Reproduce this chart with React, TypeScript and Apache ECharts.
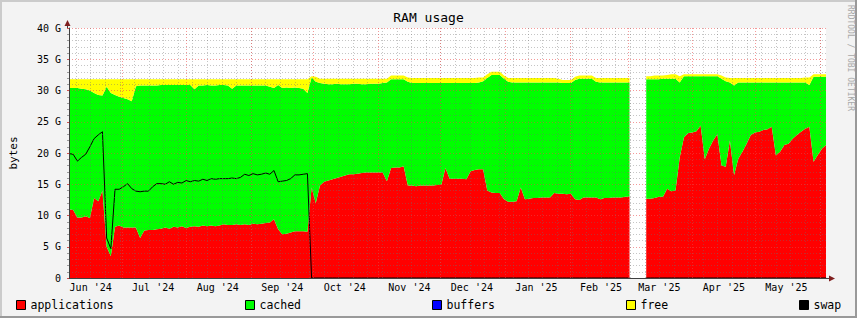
import React, { useEffect, useRef } from 'react';
import * as echarts from 'echarts';

// x axis: days after 2024-06-01 00:00 UTC (converted to timestamps for the time axis)
const START_DAY = 4.6;
const STEP_DAYS = 2.008;
const AXIS_MIN_DAY = 4.6;
const AXIS_MAX_DAY = 368;

// values in GB, one sample every STEP_DAYS days
const applications = [
  11.0, 10.9, 9.7, 9.7, 9.9, 9.6, 12.8, 12.3, 14.0, 5.0,
  3.5, 8.2, 8.4, 8.1, 8.1, 8.1, 8.1, 6.4, 7.6, 7.7,
  7.7, 7.8, 7.9, 8.1, 7.9, 8.2, 8.1, 8.3, 8.0, 8.2,
  8.3, 8.2, 8.4, 8.3, 8.4, 8.3, 8.4, 8.6, 8.5, 8.5,
  8.6, 8.5, 8.6, 8.5, 8.7, 8.6, 8.7, 8.8, 8.9, 9.4,
  7.8, 7.0, 7.1, 7.3, 7.5, 7.5, 7.5, 7.4, 14.5, 12.0,
  14.8, 15.4, 15.6, 15.8, 16.0, 16.2, 16.4, 16.6, 16.6, 16.7,
  16.8, 16.9, 16.9, 16.9, 16.9, 16.9, 15.5, 17.6, 17.7, 17.7,
  17.9, 14.8, 14.8, 14.7, 14.8, 14.8, 14.8, 14.8, 14.9, 14.9,
  17.6, 15.9, 15.9, 15.9, 15.9, 15.8, 17.1, 17.3, 17.4, 17.4,
  14.0, 13.7, 13.6, 13.6, 12.6, 12.2, 12.2, 12.3, 14.5, 12.6,
  12.7, 12.8, 12.8, 12.9, 12.9, 12.9, 13.6, 13.5, 13.5, 13.4,
  13.5, 12.6, 12.5, 12.9, 12.9, 12.9, 12.9, 12.6, 12.8, 12.8,
  12.9, 12.9, 12.9, 13.0, 13.0, null, null, null, 12.7, 12.7,
  12.8, 13.0, 13.0, 14.3, 13.9, 14.0, 19.3, 22.5, 23.2, 23.3,
  23.5, 24.4, 19.0, 20.7, 22.0, 23.0, 18.0, 17.8, 22.0, 16.5,
  19.1, 20.2, 21.5, 22.9, 23.3, 23.4, 23.7, 23.8, 24.2, 19.6,
  20.2, 21.3, 21.5, 22.3, 22.9, 23.4, 23.9, 24.2, 18.6, 19.7,
  20.7, 21.3,
];

const cached = [
  19.4, 19.5, 20.7, 20.6, 20.3, 20.4, 16.8, 17.0, 15.2, 25.6,
  26.1, 21.1, 20.6, 20.7, 20.5, 20.2, 22.6, 24.4, 23.2, 23.1,
  23.1, 23.0, 23.0, 22.8, 23.0, 22.7, 22.8, 22.6, 22.9, 22.7,
  21.9, 22.6, 22.4, 22.6, 22.4, 22.5, 22.5, 22.3, 22.3, 21.8,
  22.2, 22.3, 22.2, 22.3, 22.1, 22.2, 22.1, 22.0, 21.7, 21.0,
  23.1, 23.4, 23.4, 23.1, 23.0, 22.9, 22.8, 22.2, 17.6, 19.4,
  16.4, 15.7, 15.4, 15.2, 15.1, 14.8, 14.6, 14.4, 14.5, 14.4,
  14.2, 14.1, 14.2, 14.2, 14.2, 14.3, 15.8, 14.2, 14.1, 14.1,
  13.9, 16.6, 16.4, 16.5, 16.4, 16.4, 16.4, 16.4, 16.3, 16.3,
  13.6, 15.3, 15.3, 15.3, 15.3, 15.4, 14.1, 13.9, 13.9, 14.1,
  18.0, 18.8, 18.9, 18.9, 19.3, 19.2, 19.1, 19.0, 16.8, 18.7,
  18.6, 18.5, 18.5, 18.4, 18.4, 18.4, 17.7, 17.8, 17.7, 17.8,
  17.7, 19.1, 19.4, 19.0, 19.0, 19.0, 18.5, 18.7, 18.5, 18.5,
  18.4, 18.4, 18.4, 18.3, 18.3, null, null, null, 19.1, 19.1,
  19.0, 18.8, 18.9, 17.6, 18.0, 17.9, 12.0, 9.8, 9.1, 9.0,
  8.8, 7.9, 13.3, 11.6, 10.3, 9.3, 13.9, 13.7, 9.3, 14.3,
  12.2, 11.1, 9.8, 8.4, 8.0, 7.9, 7.6, 7.5, 7.1, 11.7,
  11.1, 10.0, 9.8, 9.0, 8.4, 7.9, 7.4, 6.7, 13.6, 12.5,
  11.5, 10.9,
];

const buffers = [
  0, 0, 0, 0, 0, 0, 0, 0, 0, 0,
  0, 0, 0, 0, 0, 0, 0, 0, 0, 0,
  0, 0, 0, 0, 0, 0, 0, 0, 0, 0,
  0, 0, 0, 0, 0, 0, 0, 0, 0, 0,
  0, 0, 0, 0, 0, 0, 0, 0, 0, 0,
  0, 0, 0, 0, 0, 0, 0, 0, 0, 0,
  0, 0, 0, 0, 0, 0, 0, 0, 0, 0,
  0, 0, 0, 0, 0, 0, 0, 0, 0, 0,
  0, 0, 0, 0, 0, 0, 0, 0, 0, 0,
  0, 0, 0, 0, 0, 0, 0, 0, 0, 0,
  0, 0, 0, 0, 0, 0, 0, 0, 0, 0,
  0, 0, 0, 0, 0, 0, 0, 0, 0, 0,
  0, 0, 0, 0, 0, 0, 0, 0, 0, 0,
  0, 0, 0, 0, 0, null, null, null, 0, 0,
  0, 0, 0, 0, 0, 0, 0, 0, 0, 0,
  0, 0, 0, 0, 0, 0, 0, 0, 0, 0,
  0, 0, 0, 0, 0, 0, 0, 0, 0, 0,
  0, 0, 0, 0, 0, 0, 0, 0, 0, 0,
  0, 0,
];

const free = [
  1.4, 1.4, 1.4, 1.5, 1.6, 1.8, 2.2, 2.5, 2.6, 1.2,
  2.2, 2.5, 2.8, 3.0, 3.2, 3.5, 1.1, 1.0, 1.0, 1.0,
  1.0, 1.0, 0.9, 0.9, 0.9, 0.9, 0.9, 0.9, 0.9, 0.9,
  1.6, 1.0, 1.0, 0.9, 1.0, 1.0, 0.9, 0.9, 1.0, 1.5,
  1.0, 1.0, 1.0, 1.0, 1.0, 1.0, 1.0, 1.0, 1.2, 1.4,
  0.9, 1.4, 1.3, 1.4, 1.3, 1.4, 1.5, 2.2, 0.2, 0.8,
  0.7, 0.8, 0.9, 0.9, 0.8, 0.9, 0.9, 0.9, 0.8, 0.8,
  0.9, 0.9, 0.8, 0.8, 0.8, 0.7, 0.6, 0.6, 0.6, 0.6,
  0.6, 0.7, 0.8, 0.8, 0.8, 0.8, 0.8, 0.8, 0.8, 0.8,
  0.8, 0.8, 0.8, 0.8, 0.8, 0.8, 0.8, 0.8, 0.8, 0.6,
  0.6, 0.5, 0.5, 0.5, 0.5, 0.6, 0.7, 0.7, 0.7, 0.7,
  0.7, 0.7, 0.7, 0.7, 0.7, 0.7, 0.7, 0.6, 0.5, 0.5,
  0.5, 0.5, 0.5, 0.5, 0.5, 0.5, 0.6, 0.7, 0.7, 0.7,
  0.7, 0.7, 0.7, 0.7, 0.7, null, null, null, 0.5, 0.5,
  0.6, 0.6, 0.5, 0.6, 0.7, 0.7, 1.0, 0.3, 0.3, 0.3,
  0.3, 0.3, 0.3, 0.3, 0.3, 0.3, 0.5, 0.6, 0.7, 1.2,
  0.7, 0.7, 0.7, 0.7, 0.7, 0.7, 0.7, 0.7, 0.7, 0.7,
  0.7, 0.7, 0.7, 0.7, 0.7, 0.7, 0.8, 1.2, 0.4, 0.4,
  0.4, 0.4,
];

const swap = [
  19.9, 19.8, 18.7, 19.3, 19.8, 21.0, 22.3, 22.9, 23.4, 6.4,
  4.7, 14.2, 14.2, 14.6, 15.1, 14.3, 13.9, 13.8, 13.9, 13.9,
  14.6, 15.1, 15.1, 15.0, 15.4, 15.0, 15.3, 15.2, 15.6, 15.4,
  15.6, 15.5, 15.8, 15.6, 15.9, 15.8, 15.9, 15.9, 15.9, 16.0,
  15.9, 16.1, 16.6, 16.4, 16.7, 16.5, 16.6, 16.8, 16.6, 17.2,
  15.4, 15.5, 15.6, 15.9, 16.5, 16.5, 16.6, 16.7, 0, 0,
  0, 0, 0, 0, 0, 0, 0, 0, 0, 0,
  0, 0, 0, 0, 0, 0, 0, 0, 0, 0,
  0, 0, 0, 0, 0, 0, 0, 0, 0, 0,
  0, 0, 0, 0, 0, 0, 0, 0, 0, 0,
  0, 0, 0, 0, 0, 0, 0, 0, 0, 0,
  0, 0, 0, 0, 0, 0, 0, 0, 0, 0,
  0, 0, 0, 0, 0, 0, 0, 0, 0, 0,
  0, 0, 0, 0, 0, null, null, null, 0, 0,
  0, 0, 0, 0, 0, 0, 0, 0, 0, 0,
  0, 0, 0, 0, 0, 0, 0, 0, 0, 0,
  0, 0, 0, 0, 0, 0, 0, 0, 0, 0,
  0, 0, 0, 0, 0, 0, 0, 0, 0, 0,
  0, 0,
];

const monthLabels = [
  "Jun '24", "Jul '24", "Aug '24", "Sep '24", "Oct '24", "Nov '24",
  "Dec '24", "Jan '25", "Feb '25", "Mar '25", "Apr '25", "May '25",
];

const yTickMax = 40;
const yTickStep = 5;

const FONT = '"DejaVu Sans Mono", monospace';
const MAJOR = 'rgba(235, 70, 70, 0.55)';
const MINOR = 'rgba(110, 110, 110, 0.4)';

const GRID = { left: 67, right: 31, top: 28, bottom: 40 };
const W = 857;
const H = 318;

const DAY_MS = 86400000;
const ORIGIN = Date.UTC(2024, 5, 1);
const tsOfDay = (d: number) => ORIGIN + d * DAY_MS;
const AXIS_MIN = tsOfDay(AXIS_MIN_DAY);
const AXIS_MAX = tsOfDay(AXIS_MAX_DAY);

const monthStarts: number[] = [];
for (let k = 0; k <= 13; k++) {
  const t = Date.UTC(2024, 5 + k, 1);
  if (t > AXIS_MIN && t < AXIS_MAX) monthStarts.push(t);
}
const labelTimes = monthLabels.map((_, k) => Date.UTC(2024, 5 + k, 16));
const labelMap = new Map<number, string>();
labelTimes.forEach((t, k) => labelMap.set(t, monthLabels[k]));

const weekTimes: number[] = [];
for (let t = Date.UTC(2024, 5, 9); t < AXIS_MAX; t += 7 * DAY_MS) {
  if (t > AXIS_MIN) weekTimes.push(t);
}

const toPoints = (arr: (number | null)[]) =>
  arr.map((v, i) => [tsOfDay(START_DAY + i * STEP_DAYS), v]);

const areaSeries = (name: string, data: (number | null)[], color: string) => ({
  name,
  type: 'line',
  stack: 'mem',
  xAxisIndex: 0,
  data: toPoints(data),
  color,
  symbol: 'none',
  showSymbol: false,
  connectNulls: false,
  silent: true,
  z: 2,
  lineStyle: { width: 0, color },
  itemStyle: { color },
  areaStyle: { color, opacity: 1 },
});

const legendItems = [
  { name: 'applications', left: 16 },
  { name: 'cached', left: 245 },
  { name: 'buffers', left: 432 },
  { name: 'free', left: 626 },
  { name: 'swap', left: 799 },
];

export default function App() {
  const ref = useRef<HTMLDivElement>(null);

  useEffect(() => {
    if (!ref.current) return;
    const chart = echarts.init(ref.current, null, { renderer: 'svg' });
    const px0 = GRID.left;
    const px1 = W - GRID.right;
    const py0 = GRID.top;
    const py1 = H - GRID.bottom;

    const option: any = {
      animation: false,
      backgroundColor: '#F3F3F3',
      textStyle: { fontFamily: FONT },
      title: {
        text: 'RAM usage',
        left: 'center',
        top: 11,
        padding: 0,
        textStyle: { fontFamily: FONT, fontSize: 13, fontWeight: 'normal', color: '#000' },
      },
      grid: {
        ...GRID,
        show: true,
        backgroundColor: '#FFFFFF',
        borderWidth: 0,
        containLabel: false,
      },
      legend: legendItems.map((it) => ({
        data: [{ name: it.name, icon: 'rect' }],
        left: it.left,
        top: 299,
        padding: 0,
        itemWidth: 9,
        itemHeight: 9,
        itemGap: 0,
        selectedMode: false,
        itemStyle: { borderColor: '#000', borderWidth: 1 },
        textStyle: { fontFamily: FONT, fontSize: 11.5, color: '#000' },
      })),
      xAxis: [
        {
          type: 'time',
          min: AXIS_MIN,
          max: AXIS_MAX,
          position: 'bottom',
          z: 5,
          axisLine: { show: true, onZero: false, lineStyle: { color: '#404040', width: 1 } },
          axisTick: { show: false },
          axisLabel: { show: false },
          splitLine: { show: false },
        },
        {
          type: 'value',
          min: AXIS_MIN,
          max: AXIS_MAX,
          position: 'bottom',
          offset: 0,
          z: 5,
          axisLine: { show: false },
          axisTick: { show: false },
          splitLine: { show: false },
          axisLabel: {
            customValues: labelTimes,
            formatter: (v: number) => labelMap.get(v) ?? '',
            fontFamily: FONT,
            fontSize: 10,
            color: '#000',
            margin: 4,
          },
        },
      ],
      yAxis: {
        type: 'value',
        min: 0,
        max: yTickMax,
        interval: yTickStep,
        z: 5,
        name: 'bytes',
        nameLocation: 'middle',
        nameRotate: 90,
        nameGap: 50,
        nameTextStyle: { fontFamily: FONT, fontSize: 11, color: '#000' },
        axisLine: { show: true, onZero: false, lineStyle: { color: '#404040', width: 1 } },
        axisTick: { show: true, length: 2, lineStyle: { color: 'rgba(200,40,40,0.8)' } },
        minorTick: { show: true, splitNumber: 5, length: 2, lineStyle: { color: '#9a9a9a' } },
        splitLine: { show: true, lineStyle: { color: MAJOR, type: [1, 2], width: 1 } },
        minorSplitLine: { show: true, lineStyle: { color: MINOR, type: [1, 2], width: 1 } },
        axisLabel: {
          formatter: (v: number) => (v === 0 ? '0' : `${v} G`),
          fontFamily: FONT,
          fontSize: 10,
          color: '#000',
          margin: 8,
        },
      },
      series: [
        areaSeries('applications', applications, '#FF0000'),
        areaSeries('cached', cached, '#00FF00'),
        areaSeries('buffers', buffers, '#0000FF'),
        areaSeries('free', free, '#FFFF00'),
        {
          name: 'swap',
          type: 'line',
          xAxisIndex: 0,
          data: toPoints(swap),
          color: '#000000',
          symbol: 'none',
          showSymbol: false,
          connectNulls: false,
          silent: true,
          z: 3,
          lineStyle: { width: 1, color: '#000000' },
          itemStyle: { color: '#000000' },
        },
        {
          name: '_grid',
          type: 'line',
          xAxisIndex: 0,
          data: [],
          silent: true,
          z: 4,
          markLine: {
            silent: true,
            animation: false,
            symbol: ['none', 'none'],
            label: { show: false },
            emphasis: { disabled: true },
            data: [
              ...weekTimes.map((t) => ({ xAxis: t, lineStyle: { color: MINOR, type: [1, 2], width: 1 } })),
              ...monthStarts.map((t) => ({ xAxis: t, lineStyle: { color: MAJOR, type: [1, 2], width: 1 } })),
            ],
          },
        },
      ],
      graphic: [
        { type: 'rect', shape: { x: 0, y: 0, width: W, height: 2 }, style: { fill: '#CBCBCB' }, silent: true },
        { type: 'rect', shape: { x: 0, y: 0, width: 2, height: H }, style: { fill: '#CBCBCB' }, silent: true },
        { type: 'rect', shape: { x: 0, y: H - 2, width: W, height: 2 }, style: { fill: '#999999' }, silent: true },
        { type: 'rect', shape: { x: W - 2, y: 0, width: 2, height: H }, style: { fill: '#999999' }, silent: true },
        {
          type: 'line',
          shape: { x1: px0 + 0.5, y1: py0, x2: px0 + 0.5, y2: py0 - 3 },
          style: { stroke: '#404040', lineWidth: 1 },
          silent: true,
        },
        {
          type: 'line',
          shape: { x1: px1, y1: py1 + 0.5, x2: px1 + 4, y2: py1 + 0.5 },
          style: { stroke: '#404040', lineWidth: 1 },
          silent: true,
        },
        {
          type: 'polygon',
          shape: { points: [[px0 + 0.5, py0 - 8], [px0 - 2.5, py0 - 2], [px0 + 3.5, py0 - 2]] },
          style: { fill: '#7F1F1F' },
          silent: true,
        },
        {
          type: 'polygon',
          shape: { points: [[px1 + 9, py1 + 0.5], [px1 + 3, py1 - 2.5], [px1 + 3, py1 + 3.5]] },
          style: { fill: '#7F1F1F' },
          silent: true,
        },
        {
          type: 'text',
          x: 850,
          y: 5,
          rotation: -Math.PI / 2,
          silent: true,
          style: {
            text: 'RRDTOOL / TOBI OETIKER',
            fill: '#A8A8A8',
            font: `8px ${FONT}`,
            textAlign: 'left',
            textVerticalAlign: 'middle',
          },
        },
      ],
    };

    chart.setOption(option);
    return () => chart.dispose();
  }, []);

  return (
    <div
      ref={ref}
      style={{ position: 'fixed', left: 0, top: 0, width: W, height: H }}
    />
  );
}
